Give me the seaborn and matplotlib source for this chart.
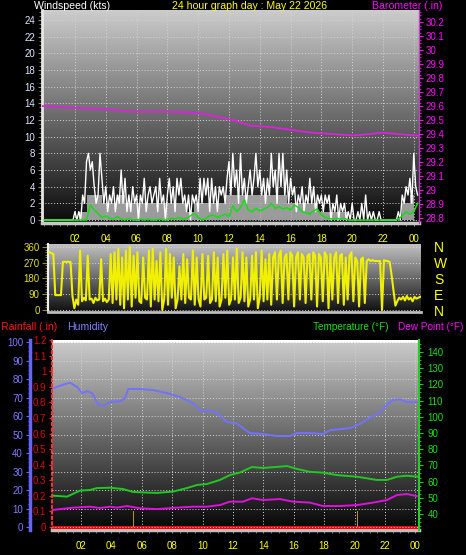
import numpy as np
import matplotlib
matplotlib.use("Agg")
import matplotlib.pyplot as plt
from matplotlib.ticker import MultipleLocator
import seaborn as sns

W, H = 466, 555
plt.rcParams['font.family'] = ['Liberation Sans', 'DejaVu Sans']

# x axis: hours of the day, "00" is midnight at the right end
hour_ticks = [2, 4, 6, 8, 10, 12, 14, 16, 18, 20, 22, 24]
hour_labels = ["02", "04", "06", "08", "10", "12", "14", "16", "18", "20", "22", "00"]

# barometer (in)
baro_hours = [-0.14, 1.48, 3.62, 5.77, 7.97, 10.1, 11.4, 12.26, 13.4, 14.7, 16.0,
              17.3, 18.6, 20.1, 21.2, 22.0, 22.9, 24.1, 24.34]
baro = [29.60, 29.59, 29.58, 29.56, 29.56, 29.55, 29.52, 29.50, 29.46, 29.45, 29.43,
        29.41, 29.40, 29.39, 29.40, 29.41, 29.40, 29.39, 29.39]

# wind gusts (kts), one reading every 7.5 minutes from 00:00
gust_step = 0.125
wind_gust = [0, 0, 0, 0, 0, 0, 0, 0, 0, 0, 0, 0, 0, 0, 0, 0,
             1, 0, 1, 0, 3, 2, 7, 8,
             6, 7, 4, 2, 3, 8, 5, 2,
             4, 1, 3, 2, 4, 1, 3, 2,
             6, 2, 5, 1, 3, 1, 4, 2,
             3, 0, 3, 2, 5, 1, 3, 4,
             2, 3, 4, 1, 5, 2, 3, 0,
             3, 5, 2, 4, 1, 5, 3, 5,
             2, 3, 1, 3, 0, 3, 2, 3,
             1, 5, 2, 5, 3, 5, 1, 5,
             2, 4, 1, 4, 3, 4, 2, 5,
             7, 3, 8, 4, 6, 2, 8, 3,
             5, 2, 4, 6, 3, 5, 8, 4,
             6, 3, 5, 2, 5, 3, 8, 4,
             6, 2, 8, 4, 8, 3, 6, 2,
             5, 3, 4, 1, 3, 2, 4, 1,
             3, 2, 5, 2, 4, 1, 3, 2,
             3, 1, 3, 2, 3, 0, 2, 1,
             3, 0, 2, 1, 2, 0, 1, 0,
             2, 0, 0, 1, 0, 2, 0, 3,
             0, 1, 0, 1, 0, 0, 1, 0,
             0, 0, 0, 0, 0, 0, 0, 0,
             1, 0, 3, 2, 4, 3, 5, 2,
             8, 4, 3]

# wind speed (kts), every 30 minutes
speed_step = 0.5
wind_speed = [0, 0, 0, 0, 0, 1, 3, 3, 2, 2, 3, 2, 2, 2, 2, 2, 2, 2, 2, 1, 2, 2, 2, 2,
              3, 3, 3, 3, 3, 3, 3, 3, 2, 2, 2, 2, 1, 1, 1, 1, 0, 0, 0, 0, 0, 0, 0, 2, 3]

# average wind (kts), every 15 minutes
avg_step = 0.25
wind_avg = [0, 0, 0, 0, 0, 0, 0, 0, 0, 0, 0, 0,
            1.8, 1.2, 0.8, 0.3,
            0.5, 0.2, 0.1, 0.4,
            0.1, 0, 0.2, 0,
            0, 0.1, 0, 0.1,
            0, 0, 0.1, 0,
            0, 0.2, 0.1, 0.3,
            0.1, 0.2, 0.5, 0.8,
            0.3, 0, 0.2, 0.5,
            0.6, 0.3, 0.5, 0.7,
            0.4, 1.7, 1.0, 1.5,
            2.4, 1.2, 1.0, 1.4,
            1.1, 1.3, 1.5, 2.0,
            1.4, 1.6, 1.3, 1.5,
            1.2, 1.8, 1.5, 1.0,
            0.9, 0.7, 1.1, 1.3,
            0.6, 0.3, 0.2, 0.1,
            0.2, 0.1, 0.2, 0,
            0, 0, 0, 0, 0, 0, 0, 0, 0, 0, 0, 0,
            0.1, 0.5, 1.0, 0.7,
            1.0, 2.0]

# wind direction (degrees), every 7.5 minutes
dir_step = 0.125
wind_dir = [330, 325, 320, 85, 85, 85, 85, 275,
            275, 275, 275, 275, 80, 10, 60, 30,
            340, 50, 70, 55, 310, 60, 65, 40,
            70, 55, 60, 290, 50, 65, 45, 60,
            320, 40, 330, 60, 350, 30, 300, 10,
            340, 60, 360, 20, 310, 70, 330, 50,
            40, 300, 70, 60, 340, 20, 350, 60,
            280, 50, 330, 0, 60, 350, 30, 320,
            70, 300, 10, 60, 250, 60, 320, 40,
            290, 70, 60, 340, 30, 300, 60, 20,
            320, 60, 70, 310, 40, 60, 330, 50,
            300, 20, 60, 320, 70, 340, 30, 60,
            300, 60, 350, 40, 70, 330, 50, 300,
            20, 60, 310, 60, 330, 10, 70, 340,
            50, 290, 60, 320, 30, 300, 330, 60,
            310, 340, 40, 300, 320, 60, 330, 310,
            20, 300, 330, 60, 320, 300, 40, 310,
            320, 60, 330, 310, 20, 320, 300, 50,
            330, 310, 10, 320, 60, 300, 330, 40,
            310, 320, 30, 300, 60, 310, 330, 50,
            300, 280, 20, 290, 300, 40, 280, 290,
            280, 285, 280, 280, 280, 280, 0, 285,
            280, 280, 275, 200, 110, 25, 50, 70,
            60, 75, 55, 80, 60, 70, 50, 75,
            65, 70, 75]

# humidity (%)
hum_hours = [0.16, 0.82, 1.28, 1.74, 2.07, 2.4, 2.72, 3.12, 3.45, 3.9, 4.57, 4.9, 5.1,
             5.9, 6.74, 7.66, 8.5, 9.37, 9.83, 10.5, 10.95, 11.6, 12.26, 12.66, 13.1,
             13.97, 14.9, 15.75, 16.2, 17.1, 17.9, 18.4, 19.7, 20.35, 21.0, 21.7, 22.1,
             22.5, 23.0, 23.4, 24.1]
humidity = [75, 77, 78, 75.7, 72.4, 73.5, 72.4, 66.5, 65.4, 67.6, 68, 69.7, 74.6,
            74.6, 74, 72.4, 70.3, 67, 63, 63, 61.6, 56.8, 56, 53.5, 50.8,
            50.3, 49.2, 49.2, 50.8, 50.8, 50.3, 52.4, 53.5, 55.7, 59, 62, 66,
            68.6, 69, 67.6, 67.6]

# temperature (F)
temp_hours = [0.16, 1.08, 1.93, 2.59, 3.05, 3.91, 4.76, 5.42, 6.34, 7.0, 8.05, 8.97,
              9.63, 10.29, 11.14, 11.8, 12.46, 13.25, 13.97, 15.09, 15.55, 16.21,
              17.07, 17.92, 18.84, 20.16, 21.47, 22.13, 22.79, 23.45, 24.17]
temperature = [51.3, 50.7, 54.4, 54.8, 56, 56.2, 55.4, 53.6, 53.2, 53, 53.8, 56,
               57.9, 58.5, 61, 64, 65.6, 69, 68.4, 69.2, 69.6, 67.8,
               66, 65.5, 64, 63, 61, 61, 63, 63.6, 63]

# dew point (F)
dew_hours = [0.16, 1.47, 2.59, 3.25, 3.91, 4.37, 5.03, 5.88, 7.0, 8.32, 9.37, 10.29,
             11.14, 11.8, 12.66, 13.25, 13.97, 15.09, 15.95, 17.07, 17.92, 19.04,
             20.16, 21.21, 22.13, 22.79, 23.45, 24.1]
dew_point = [42.5, 43.9, 44.5, 43.7, 44.5, 43.9, 44.9, 43.5, 43, 43.9, 44.5, 44.5,
             45.5, 47.6, 47.6, 49.7, 48.6, 49.2, 47.6, 47, 44.9, 44.9,
             45.5, 47, 48.6, 51.7, 52.3, 51]

# rainfall (in) and the two rain rate marks
rain_hours = [0.09, 24.24]
rainfall = [0, 0]
rate_hours = [5.44, 20.2]
rain_rate = [0.1, 0.1]

PT = 72 / 100  # points per pixel at dpi 100


def box(left, top, right, bottom):
    return [left / W, 1 - bottom / H, (right - left) / W, (bottom - top) / H]


def background(ax, xlim, ylim, top, bottom):
    grad = np.linspace(top, bottom, 256).reshape(-1, 1)
    ax.imshow(grad, extent=[xlim[0], xlim[1], ylim[0], ylim[1]], cmap='gray',
              vmin=0, vmax=1, aspect='auto', zorder=0, interpolation='bilinear')
    ax.set_xlim(*xlim)
    ax.set_ylim(*ylim)


def hour_axis(ax, pad=6):
    ax.set_xticks(hour_ticks)
    ax.xaxis.set_minor_locator(MultipleLocator(0.5))
    ax.set_xticklabels(hour_labels)
    ax.tick_params(axis='x', which='both', colors='#8c8c8c', labelcolor='#ffff00',
                   labelsize=7, length=2, pad=pad)


def ftext(x, y, s, color, ha='left', size=7.6):
    fig.text(x / W, 1 - y / H, s, color=color, ha=ha, va='center', fontsize=size)


fig = plt.figure(figsize=(W / 100, H / 100), dpi=100, facecolor='black')
grid_kw = dict(color='#d4d4d4', linestyle=(0, (1, 2)), linewidth=0.7)

# ---- wind speed / barometer ----
ax1 = fig.add_axes(box(42, 10, 419, 223))
background(ax1, (-0.14, 24.34), (-0.36, 25.2), 0.80, 0.04)
ax1.fill_between(np.arange(len(wind_speed)) * speed_step, 0, wind_speed, step='mid',
                 color='#b4b4b4', alpha=0.85, lw=0, zorder=2)
sns.lineplot(x=np.arange(len(wind_gust)) * gust_step, y=wind_gust, ax=ax1,
             color='white', linewidth=1.0, zorder=3)
sns.lineplot(x=np.arange(len(wind_avg)) * avg_step, y=wind_avg, ax=ax1,
             color='#10e010', linewidth=1.1, zorder=4)
ax1.set_xlim(-0.14, 24.34)
ax1.set_ylim(-0.36, 25.2)
ax1.set_yticks(range(0, 25, 2))
ax1.yaxis.set_minor_locator(MultipleLocator(0.5))
ax1.tick_params(axis='y', which='both', colors='#8c8c5c', labelcolor='#dce6ff',
                labelsize=7, length=3, pad=2)
ax1.tick_params(axis='y', which='minor', length=2)
hour_axis(ax1)
ax1.grid(True, which='major', **grid_kw)
ax1.set_xlabel('')
ax1.set_ylabel('')
for s in ['top', 'right']:
    ax1.spines[s].set_visible(False)
ax1.spines['left'].set_color('#e8e8e8')
ax1.spines['left'].set_linewidth(2)
ax1.spines['bottom'].set_color('#c8c8c8')
ax1.spines['bottom'].set_linewidth(2.5)

ax1b = ax1.twinx()
sns.lineplot(x=baro_hours, y=baro, ax=ax1b, color='#e020e0', linewidth=1.3)
ax1b.set_ylim(28.764, 30.286)
ax1b.set_yticks([round(28.8 + 0.1 * i, 1) for i in range(15)])
ax1b.set_yticklabels([f"{round(28.8 + 0.1 * i, 1):g}" for i in range(15)])
ax1b.yaxis.set_minor_locator(MultipleLocator(0.025))
ax1b.tick_params(axis='y', which='both', colors='#ff00ff', labelsize=7, length=3, pad=2)
ax1b.tick_params(axis='y', which='minor', length=1.5)
ax1b.set_ylabel('')
for s in ['top', 'left', 'bottom']:
    ax1b.spines[s].set_visible(False)
ax1b.spines['right'].set_color('#c040c0')
ax1b.spines['right'].set_linewidth(1)

ftext(34, 6, "Windspeed (kts)", 'white')
ftext(172, 6, "24 hour graph day : May 22 2026", '#ffff00')
ftext(372, 6, "Barometer (.in)", '#ff00ff')

# ---- wind direction ----
ax2 = fig.add_axes(box(48, 244, 421, 312))
background(ax2, (-0.1, 24.3), (-11.4, 377), 0.76, 0.06)
sns.lineplot(x=np.arange(len(wind_dir)) * dir_step, y=wind_dir, ax=ax2,
             color='#f0f000', linewidth=1.5, zorder=3)
ax2.set_xlim(-0.1, 24.3)
ax2.set_ylim(-11.4, 377)
ax2.set_yticks([0, 90, 180, 270, 360])
ax2.yaxis.set_minor_locator(MultipleLocator(15))
ax2.tick_params(axis='y', which='both', colors='#8c8c2c', labelcolor='#e0e000',
                labelsize=7, length=4, pad=2)
ax2.tick_params(axis='y', which='minor', length=2)
ax2.set_xticks(hour_ticks)
ax2.tick_params(axis='x', which='both', length=0, labelbottom=False)
ax2.grid(True, which='major', axis='y', **grid_kw)
ax2.set_ylabel('')
for s in ['top', 'right']:
    ax2.spines[s].set_visible(False)
ax2.spines['left'].set_color('#f0f0f0')
ax2.spines['left'].set_linewidth(1.5)
ax2.spines['bottom'].set_color('#bcbcbc')
ax2.spines['bottom'].set_linewidth(2)

ax2r = ax2.twinx()
ax2r.set_ylim(-11.4, 377)
ax2r.set_yticks([360, 270, 180, 90, 0])
ax2r.set_yticklabels(["N", "W", "S", "E", "N"])
ax2r.tick_params(axis='y', length=0, pad=13 * PT, labelcolor='#ffff00', labelsize=10)
for s in ax2r.spines.values():
    s.set_visible(False)

# ---- rain / humidity / temperature ----
ax3 = fig.add_axes(box(52, 340, 419, 530))
background(ax3, (0.09, 24.24), (-0.019, 1.176), 0.79, 0.02)
sns.lineplot(x=rain_hours, y=rainfall, ax=ax3, color='#ff0000', linewidth=2.2, zorder=4)
ax3.bar(rate_hours, rain_rate, width=0.07, color='#b89800', zorder=4)
ax3.set_xlim(0.09, 24.24)
ax3.set_ylim(-0.019, 1.176)
ax3.set_yticks([round(0.1 * i, 1) for i in range(13)])
ax3.set_yticklabels([f"{round(0.1 * i, 1):g}" for i in range(13)])
ax3.tick_params(axis='y', which='both', colors='#ff2020', labelcolor='#e00000',
                labelsize=7, length=2, pad=2)
hour_axis(ax3)
ax3.grid(True, which='major', axis='x', **grid_kw)
ax3.set_ylabel('')
for s in ['top', 'right']:
    ax3.spines[s].set_visible(False)
ax3.spines['left'].set_color('#ff3030')
ax3.spines['left'].set_linestyle(':')
ax3.spines['left'].set_linewidth(1.5)
ax3.spines['bottom'].set_color('#c0c0c0')
ax3.spines['bottom'].set_linewidth(2.5)

ax_h = ax3.twinx()
sns.lineplot(x=hum_hours, y=humidity, ax=ax_h, color='#7272ff', linewidth=1.4)
ax_h.set_ylim(-1.6, 101.1)
ax_h.set_yticks(range(0, 101, 10))
ax_h.yaxis.set_minor_locator(MultipleLocator(2.5))
ax_h.yaxis.set_ticks_position('left')
ax_h.yaxis.set_label_position('left')
ax_h.spines['left'].set_position(('outward', 22 * PT))
ax_h.spines['left'].set_visible(True)
ax_h.spines['left'].set_color('#6464ff')
ax_h.spines['left'].set_linewidth(2.5)
for s in ['top', 'right', 'bottom']:
    ax_h.spines[s].set_visible(False)
ax_h.tick_params(axis='y', which='both', colors='#6464ff', labelcolor='#7c7cff',
                 labelsize=7, length=3, pad=2)
ax_h.tick_params(axis='y', which='minor', length=1.5)
ax_h.grid(True, which='major', axis='y', **grid_kw)
ax_h.set_ylabel('')

ax_t = ax3.twinx()
sns.lineplot(x=temp_hours, y=temperature, ax=ax_t, color='#20c820', linewidth=1.4)
sns.lineplot(x=dew_hours, y=dew_point, ax=ax_t, color='#e010e0', linewidth=1.4)
ax_t.set_ylim(30.1, 147.4)
ax_t.set_yticks(range(40, 141, 10))
ax_t.yaxis.set_minor_locator(MultipleLocator(2.5))
ax_t.tick_params(axis='y', which='both', colors='#10d010', labelcolor='#10e010',
                 labelsize=7, length=3, pad=3)
ax_t.tick_params(axis='y', which='minor', length=1.5)
for s in ['top', 'left', 'bottom']:
    ax_t.spines[s].set_visible(False)
ax_t.spines['right'].set_color('#20d020')
ax_t.spines['right'].set_linewidth(1.5)
ax_t.set_ylabel('')

ftext(1, 327, "Rainfall (.in)", '#ff1010')
ftext(67, 327, "Humidity", '#8080ff')
ftext(313, 327, "Temperature (\u00b0F)", '#10e010', size=7.2)
ftext(463, 327, "Dew Point (\u00b0F)", '#ff00ff', ha='right', size=7.2)

fig.savefig("out.png", dpi=100, facecolor='black')
